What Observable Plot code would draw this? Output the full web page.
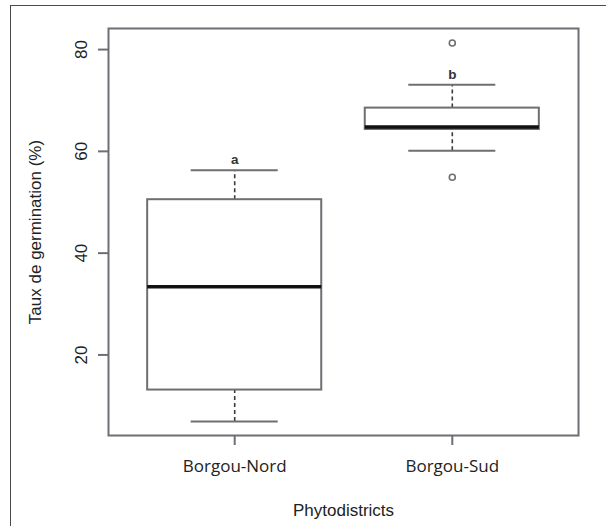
<!DOCTYPE html>
<html>
<head>
<meta charset="utf-8">
<script src="https://cdn.jsdelivr.net/npm/d3@7"></script>
<script src="https://cdn.jsdelivr.net/npm/@observablehq/plot@0.6"></script>
<style>
  html, body { margin: 0; padding: 0; background: #fff; overflow: hidden; }
  #wrap { position: relative; width: 606px; height: 526px; }
  #border { position: absolute; left: 10px; top: 5px; width: 620px; height: 540px;
            border-left: 1.5px solid #4a4a4a; border-top: 1.5px solid #4a4a4a; pointer-events: none; }
</style>
</head>
<body>
<div id="wrap"><div id="border"></div></div>
<script>
// ---- data ----
const categories   = ["Borgou-Nord", "Borgou-Sud"];
const lowerWhisker = [6.9, 60.1];
const q1           = [13.1, 64.3];
const median       = [33.4, 64.8];
const q3           = [50.5, 68.5];
const upperWhisker = [56.3, 73.1];
const outlierCat   = ["Borgou-Sud", "Borgou-Sud"];
const outlierVal   = [81.3, 54.9];
const letters      = ["a", "b"];
const letterVal    = [58.3, 75.0];
const yTicks       = [20, 40, 60, 80];

const boxes = categories.map((c, i) => ({
  cat: c, pos: i + 1,
  lo: lowerWhisker[i], q1: q1[i], med: median[i], q3: q3[i], hi: upperWhisker[i],
  letter: letters[i], letterY: letterVal[i]
}));
const outliers = outlierCat.map((c, i) => ({pos: categories.indexOf(c) + 1, value: outlierVal[i]}));

const gray = "#6e6e74";
const half = 0.4, staple = 0.2;

const chart = Plot.plot({
  width: 606, height: 526,
  marginLeft: 108, marginRight: 28, marginTop: 28, marginBottom: 91,
  style: {fontFamily: "'Liberation Sans', Arial, sans-serif", fontSize: "17px", color: "#222", background: "transparent"},
  x: {type: "linear", domain: [0.42, 2.58]},
  y: {domain: [4.17, 84.14]},
  marks: [
    Plot.frame({stroke: gray, strokeWidth: 2}),
    // whiskers (dashed)
    Plot.ruleX(boxes, {x: "pos", y1: "q3", y2: "hi", stroke: "#3a3a3a", strokeWidth: 1.6, strokeDasharray: "4,3"}),
    Plot.ruleX(boxes, {x: "pos", y1: "lo", y2: "q1", stroke: "#3a3a3a", strokeWidth: 1.6, strokeDasharray: "4,3"}),
    // staples
    Plot.ruleY(boxes, {y: "hi", x1: d => d.pos - staple, x2: d => d.pos + staple, stroke: gray, strokeWidth: 2}),
    Plot.ruleY(boxes, {y: "lo", x1: d => d.pos - staple, x2: d => d.pos + staple, stroke: gray, strokeWidth: 2}),
    // boxes
    Plot.rect(boxes, {x1: d => d.pos - half, x2: d => d.pos + half, y1: "q1", y2: "q3", fill: "white", stroke: gray, strokeWidth: 2}),
    // medians
    Plot.ruleY(boxes, {y: "med", x1: d => d.pos - half, x2: d => d.pos + half, stroke: "#111", strokeWidth: 3.5}),
    // outliers
    Plot.dot(outliers, {x: "pos", y: "value", r: 3, stroke: gray, strokeWidth: 1.6, fill: "white"}),
    // significance letters
    Plot.text(boxes, {x: "pos", y: "letterY", text: "letter", fontSize: 13.5, fontWeight: "bold", fill: "#333"}),
    // axes
    Plot.axisY({ticks: yTicks, tickSize: 10, tickRotate: -90, tickPadding: 12, stroke: gray, strokeWidth: 2,
      label: "Taux de germination (%)", labelAnchor: "center", labelArrow: "none", labelOffset: 80}),
    Plot.axisX({ticks: [1, 2], tickSize: 10, tickPadding: 14, stroke: gray, strokeWidth: 2,
      tickFormat: d => categories[d - 1], fontFamily: "'Open Sans', sans-serif", fill: "#222", label: null}),
    Plot.axisX({ticks: [], label: "Phytodistricts", labelAnchor: "center", labelArrow: "none", labelOffset: 80})
  ]
});
document.getElementById("wrap").prepend(chart);
</script>
</body>
</html>
